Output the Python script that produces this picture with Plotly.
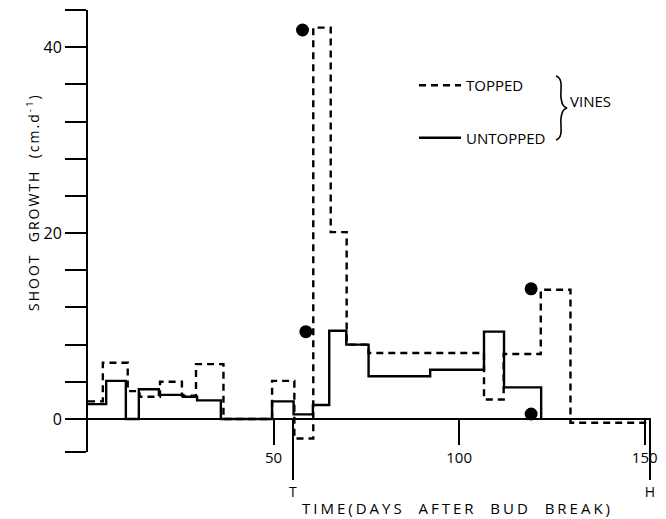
import plotly.graph_objects as go

# ---- data ----
untopped_x = [0, 4.9, 10.2, 13.7, 19.1, 25.6, 29.4, 35.8, 49.6, 55.4, 60.6, 65.0,
              69.6, 75.6, 92.2, 106.7, 112.1, 122.1]
untopped_y = [1.6, 4.1, 0.0, 3.2, 2.6, 2.4, 2.0, 0.0, 1.9, 0.5, 1.5, 9.5,
              8.0, 4.6, 5.3, 9.4, 3.4, 0.0]

topped_x = [0, 4.0, 10.7, 13.9, 19.4, 25.3, 29.1, 36.5, 49.6, 55.6, 60.7, 65.4,
            69.7, 75.6, 106.7, 112.0, 122.0, 130.0, 151.4]
topped_y = [1.9, 6.05, 3.0, 2.4, 4.0, 2.5, 5.9, 0.0, 4.1, -2.1, 42.1, 20.1,
            8.0, 7.1, 2.1, 7.0, 13.9, -0.4, -0.4]

dots_x = [57.8, 58.7, 119.4, 119.4]
dots_y = [41.85, 9.39, 14.0, 0.54]

y_tickvals = [-3.55, 0, 4, 8, 12, 16, 20, 24, 28, 32, 36, 40, 44]
y_ticktext = [" ", "0", " ", " ", " ", " ", "20", " ", " ", " ", " ", "40", " "]
x_tickvals = [50, 100, 150]
x_ticktext = ["50", "100", "150"]
event_vals = [55.2, 151.4]
event_text = ["T", "H"]

X_RANGE = [0, 151.7]
Y_RANGE = [-3.55, 44]
ZERO_POS = (0 - Y_RANGE[0]) / (Y_RANGE[1] - Y_RANGE[0])

FONT = "Open Sans"

fig = go.Figure()
fig.add_trace(go.Scatter(
    x=topped_x, y=topped_y, mode="lines", line_shape="hv",
    line=dict(color="black", width=2.4, dash="7px,5px"),
    name="TOPPED", legendgroup="a"))
fig.add_trace(go.Scatter(
    x=untopped_x, y=untopped_y, mode="lines", line_shape="hv",
    line=dict(color="black", width=2.4),
    name="UNTOPPED", legendgroup="b"))
fig.add_trace(go.Scatter(
    x=dots_x, y=dots_y, mode="markers",
    marker=dict(color="black", size=13), showlegend=False))
# invisible trace for the event axis (T, H)
fig.add_trace(go.Scatter(x=event_vals, y=[0, 0], xaxis="x2", mode="markers",
                         marker=dict(opacity=0), showlegend=False, hoverinfo="skip"))

W, H = 666, 519
ML, MR, MT, MB = 88, 15, 10, 67
PW, PH = W - ML - MR, H - MT - MB


def px(x):
    return (x - ML) / PW


def py(y):
    return (H - MB - y) / PH


axis_common = dict(showgrid=False, zeroline=False, automargin=False,
                   ticks="outside", tickwidth=2, tickcolor="black",
                   linecolor="black", linewidth=2)

fig.update_layout(
    template="none",
    width=W, height=H,
    margin=dict(l=ML, r=MR, t=MT, b=MB, pad=0, autoexpand=False),
    paper_bgcolor="white", plot_bgcolor="white",
    font=dict(family=FONT, color="black", size=14),
    showlegend=True,
    legend=dict(x=px(414), y=py(69), xanchor="left", yanchor="top",
                bgcolor="rgba(0,0,0,0)", borderwidth=0, tracegroupgap=30,
                font=dict(size=15, family=FONT, color="black"), itemwidth=42),
    xaxis=dict(range=X_RANGE, anchor="free", position=ZERO_POS,
               showline=True, ticklen=25,
               tickvals=x_tickvals, ticktext=x_ticktext,
               tickfont=dict(size=15, family=FONT, color="black"), **axis_common),
    xaxis2=dict(range=X_RANGE, overlaying="x", anchor="free", position=ZERO_POS,
                side="bottom", showline=False, ticklen=60,
                tickvals=event_vals, ticktext=event_text,
                tickfont=dict(size=14, family=FONT, color="black"), **axis_common),
    yaxis=dict(range=Y_RANGE, showline=True, ticklen=21,
               tickvals=y_tickvals, ticktext=y_ticktext,
               tickfont=dict(size=16, family=FONT, color="black"), **axis_common),
)

# axis titles
fig.add_annotation(
    xref="paper", yref="paper", x=px(33), y=py(202), showarrow=False,
    textangle=-90, xanchor="center", yanchor="middle",
    text='<span style="letter-spacing:2px">SHOOT  GROWTH  (cm.d<sup>-1</sup>)</span>',
    font=dict(size=14, family=FONT, color="black"))
fig.add_annotation(
    xref="paper", yref="paper", x=px(300), y=py(508), showarrow=False,
    xanchor="left", yanchor="middle",
    text='<span style="letter-spacing:3px">TIME(DAYS  AFTER  BUD  BREAK)</span>',
    font=dict(size=15, family=FONT, color="black"))

# brace + group label
fig.add_shape(
    type="path", xref="paper", yref="paper",
    path=(f"M {px(556)} {py(76)} C {px(564)} {py(78)} {px(560)} {py(92)} {px(561)} {py(98)} "
          f"C {px(562)} {py(104)} {px(563)} {py(107)} {px(567)} {py(108)} "
          f"C {px(563)} {py(109)} {px(562)} {py(112)} {px(561)} {py(118)} "
          f"C {px(560)} {py(124)} {px(564)} {py(138)} {px(556)} {py(140)}"),
    line=dict(color="black", width=1.6))
fig.add_annotation(
    xref="paper", yref="paper", x=px(568), y=py(101), showarrow=False,
    xanchor="left", yanchor="middle", text="VINES",
    font=dict(size=15, family=FONT, color="black"))

fig.write_html("out.html",
               config={"displayModeBar": False},
               post_script="document.body.style.margin='0';")
